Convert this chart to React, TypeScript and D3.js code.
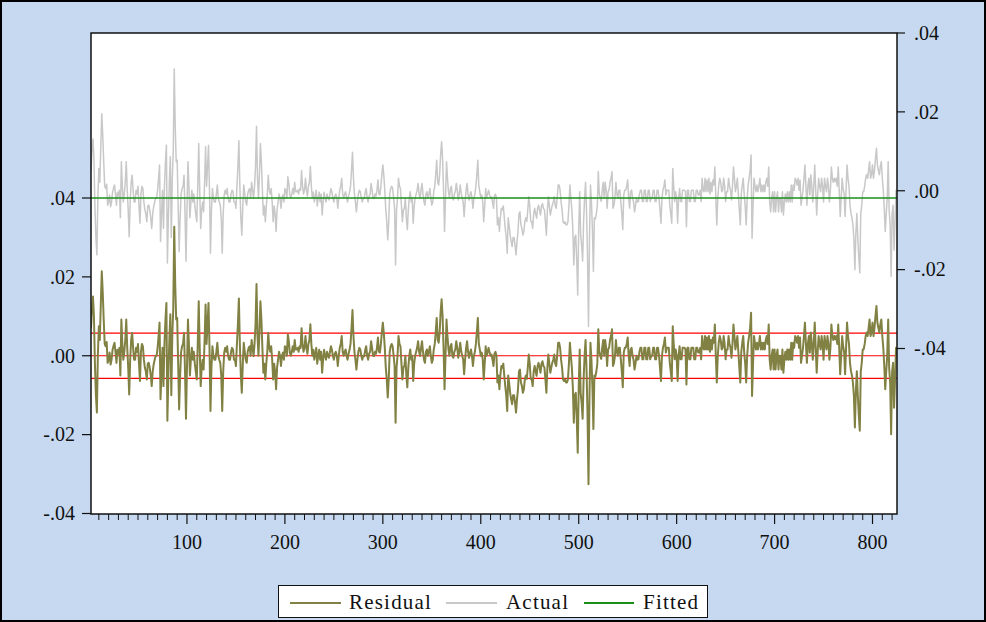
import React from "react";
import * as d3 from "d3";

// EViews style residual / actual / fitted graph
const firstObs = 2;

// residuals, in thousandths, one per observation starting at firstObs
const residual = [
  7, 12, 15, 10, -2, -10, -14.4, 0,
  7.5, 4, 13, 21.4, 16, 9, 3, 2.4, 3.5, -1.8,
  -1, 0.8, -2.2, -1, 1.5, 2.5, 3.3, 1, -1.8, 1.5,
  0.5, 2, -5, 9.2, 3, -1, 1, 4, 9.2, 2,
  -3, -9.8, -1, 4, 5.8, 2, -1, -1, 2, 1,
  3, -2, -6.4, 1, 3, 2.4, -1, -3, -4, -6,
  -2, -1.8, -3, -5, -7.7, -4, -2.2, -1, 0, 0,
  2, 5, 8.4, -11, -4, 2, -7.7, 3, 9, 13.4,
  -16.5, -5, 4, 10.5, -10, 5, 12, 32.7, 18, 9.2,
  9.6, -2, -13.6, -5, 1, 2.4, 3, 5.8, -4, -16,
  -3, 9.2, 3, -5, -1, 2, -1, 1, -2, -4,
  -6, 3, 13.8, 2, -7.7, -3, -1, -3.5, 4, 13,
  3, 8, 13.4, 2, -14, -3, 2.4, 0, -1, -1,
  1, 3.3, 0, -1, -1.8, -5, -14, -4, 0.8, 2,
  1, 2.4, 0, -1, -1, 1, 2, 1.6, -1, -1,
  -2.6, 3, 8, 14.5, 3, -5, -9.4, -2, 3.3, 1,
  -1, -1.8, 1, 2, 2.4, 0, 4, 2, -0.1, 3,
  8, 18.2, 5, 0, 6, 13.8, 9.2, 2, -4.3, -2,
  -6, -2, 1, 5.8, 2, 1, 2.4, -1, -6, -2,
  -4, -8.5, -3, -1, 1, 0, -2.6, 0, 0.8, -1,
  2.4, 2, 0, 5.4, 3.7, 0.8, 0, 1, 2.4, 1,
  4, 1.6, 1.6, 2, 1, 2.4, 2, 7, 3, 1,
  2, 5, 2, 0.5, 3, 4, 8, 3, 0, 1.5,
  -1, 0.5, 2, -2, 0, 1.5, -1, 1, -4.3, -1,
  1.5, 0, -1, 1, 0, -0.5, 1, 2.4, 1.5, 0,
  -1, 0.5, 1, 0, -2.6, 0, 2, 3, 5, 1,
  0, 1, 1.6, 0, -1, 0.5, 1.5, 3, 7, 11.6,
  5, 1, -1, -3.5, -1, 1, 2, 1.6, 0, -1,
  0, -0.1, 1.5, 2.4, 0, -1, 0.5, 1, 3.7, 2,
  0, -0.1, 1, 0.5, 2, 4.6, 1, 0.8, 3, 6,
  8.4, 5.7, 2, -3, -6, -10.6, -6, 1, 2.4, 3,
  2.4, 0, -2.6, -17, -3, 0, 5, 3, 2.4, -2,
  -6, -3, -2.6, 0, -5, -8, -3, 0, 1.6, -1,
  0, -6.4, -2, 0, 1, 2, 3.7, 1, -0.1, 2,
  3.7, 1, -1, -1.8, 1, 1.6, 0, 1, 2.4, 0,
  -1.8, -1, 1.6, 3, 6, 9.6, 4, 3.3, 6, 11,
  14.3, 10, 2, -8.5, 0, 9.2, 5, 1.6, 0, 2.4,
  3, 0, -0.5, 1, 1.6, 3.7, 2, -0.5, 1, 3.3,
  1.2, 0, -0.9, -4.7, -1, 2, 3.7, 1, -0.5, 0.8,
  1.6, 0, -2.6, 0, 1, 3, 6, 9.6, 3, 1.6,
  0, 0.8, -1, -6, -2, 2.4, 0, 1, 2, 0.8,
  0, 0.3, -1, -2.6, 0.5, 1, 0, -6.8, -5, -8.5,
  -5, -2.6, -3, -2, -5, -7.7, -10, -14, -5, -7,
  -9.4, -11, -12.3, -10, -10, -12, -14.4, -11, -8.5, -4,
  -3.5, -6.8, -7.7, -9.4, -8.5, -6, -5, -5.9, -3, 0.3,
  -2, -5.9, -6, -7.7, -4, -2.6, -4, -5.1, -2.6, -1.8,
  -3, -4.3, -2, -1.4, -2.6, -3, -6, -9.4, -3, 0.3,
  -2, -4.3, -3, -1.8, -1, 0.3, -2, -2.6, 0, 3.3,
  3.3, 2, -1, -3, -6, -6.4, -6, -6.8, -6.8, -6,
  -2, 3.3, 0, -3, -8, -17, -10, -9.4, -16, -24.6,
  -8, 1.6, -9.4, -12, -16, -6, 0, 4, -3.5, -15,
  -32.6, -10, 3.3, -1, -8, -18.6, -5, -5.3, -4, -2,
  6.7, 1, 0, -0.8, 2, 4, 0, 4, 2, -2.6,
  1.6, 2, 4, 5, 6.7, -2.6, -1.8, 0, 4, 1,
  0, 2, 2, -1, -4, -8, 0.8, 2, 2, 3,
  4.6, 0, -2.6, 1.6, 2, 0, -1, -3.5, -2, 0,
  -1, -0.9, 1, 2, 2, -0.9, -0.9, 2, 2, -0.9,
  -0.9, 2, 2, -0.9, 0, 0, 2, 2, -0.9, -0.9,
  2, 2, 0, -3, -6.4, 0, 2, 3, 4.6, 0.8,
  2, 2, 2, -1.8, -4, -6.4, 7.5, 3, -0.9, 1.6,
  0, -6.4, 0, 2.4, -0.9, -0.9, 2, 2, 2, 1.6,
  -7.3, 2, 2, -0.9, -0.9, 2, 2, 2, -0.9, -0.9,
  2, 2, 0.8, 0.8, 2, -0.9, 5, 2, 1.6, 5,
  1.6, 4.6, 1.6, 5, 1, 4, 1.6, 4.6, 3.3, 7.9,
  0, -6.8, 0, 3.3, 5, 4, 1.6, 2, 5, 3,
  -0.9, 1.6, 1.6, 5, 3, 2, -0.5, 3, 7.9, 5,
  1.6, 3, 5, 1, -3, -6.8, 1, 3.3, 5, 0.8,
  -2, -6.8, 0, 3.3, 5, 7, 10.9, -10.2, -2, 5,
  3, 1.6, 3.3, 1.6, 3, 5, 1.6, 3.3, 1.6, 3.3,
  1.6, 4, 5, 3, 7.9, -1, -3.5, 0, 1.6, -3.5,
  1.6, -3.5, 0, 1.6, -3.5, 0, -0.1, -3.5, 1.6, -4.3,
  -1, 1, -1, 1.6, -1, 1.6, -1, 3.3, -1, 3.3,
  2, 5, 4.5, 3.3, 5, 2, 4.6, -1.8, 0, 2,
  5, 8.4, 3, -1.8, 3, 5, 0.8, 5.9, 3, -1,
  3, 8.4, 2, -4.3, 1, 5, 3, 1.6, 5, 3,
  -1, 5, 3, 1.6, 5, 3, -1, 2, 7.9, 5,
  4, 5, 4.2, 5, 3, 7.9, 2, -4.7, 0, 5,
  2.4, 1, -4.7, 2, 8.4, 5, 3, -1.8, -3.9, -5,
  -6.8, -10.2, -18.2, -9, -3.9, -10.2, -15, -19, -4, -1.8,
  1.6, 1.6, 3, 5, 5.9, 5, 7, 9.2, 5, 6,
  8.4, 5, 7, 10, 12.6, 8.4, 7, 5.9, 8, 9.2,
  5, 2, -2.6, -8.5, -4, 0, 9.2, -3, -6.8, -19.9,
  -4, -1.8, -13.2, -6, 2, 0,
];

const fittedValue = -0.00185; // constant fit (mean of actual)
const residualSE = 0.00575; // +/- 1 S.E. band

const leftTicks = [-0.04, -0.02, 0, 0.02, 0.04];
const rightTicks = [-0.04, -0.02, 0, 0.02, 0.04];
const xTicks = [100, 200, 300, 400, 500, 600, 700, 800];
const legendLabels = ["Residual", "Actual", "Fitted"];

const W = 986;
const H = 622;
const plot = { left: 91, right: 897, top: 33, bottom: 514 };

const colors = {
  bg: "#C6D9F0",
  residual: "#818143",
  actual: "#C8C8C8",
  fitted: "#1A8F1A",
  band: "#FF0000",
};

const font = "'Liberation Serif', 'Times New Roman', serif";

const fmt = (v: number) => (v < 0 ? "-" : "") + Math.abs(v).toFixed(2).slice(1);

export default function App() {
  const data = residual.map((r, i) => {
    const res = r / 1000;
    return { obs: firstObs + i, res, fit: fittedValue, act: fittedValue + res };
  });
  const lastObs = firstObs + residual.length - 1;

  const x = d3.scaleLinear().domain([firstObs, lastObs]).range([plot.left, plot.right]);
  // residual on left axis, actual/fitted on right axis (same units per px)
  const yL = d3.scaleLinear().domain([-0.04, 0.04]).range([513.5, 198]);
  const yR = d3.scaleLinear().domain([-0.04, 0.04]).range([348.5, 33]);

  const resLine = d3.line<any>().x((d) => x(d.obs)).y((d) => yL(d.res));
  const actLine = d3.line<any>().x((d) => x(d.obs)).y((d) => yR(d.act));
  const fitLine = d3.line<any>().x((d) => x(d.obs)).y((d) => yR(d.fit));

  const minorTicks = d3.range(10, lastObs + 1, 10).filter((t) => t % 100 !== 0);

  const legend = [
    { label: legendLabels[0], color: colors.residual, x1: 290, x2: 341, tx: 349 },
    { label: legendLabels[1], color: colors.actual, x1: 446, x2: 497, tx: 506 },
    { label: legendLabels[2], color: colors.fitted, x1: 584, x2: 634, tx: 643 },
  ];

  return (
    <div style={{ position: "absolute", left: 0, top: 0 }}>
      <svg width={W} height={H} style={{ display: "block" }} fontFamily={font}>
        <defs>
          <clipPath id="plotClip">
            <rect x={plot.left} y={plot.top} width={plot.right - plot.left} height={plot.bottom - plot.top} />
          </clipPath>
        </defs>
        <rect x={1} y={1} width={W - 2} height={H - 2} fill={colors.bg} stroke="#000" strokeWidth={2} />
        <rect
          x={plot.left}
          y={plot.top}
          width={plot.right - plot.left}
          height={plot.bottom - plot.top}
          fill="#fff"
        />

        <g clipPath="url(#plotClip)">
          <path d={actLine(data) || ""} fill="none" stroke={colors.actual} strokeWidth={1.5} strokeLinejoin="round" />
          <path d={fitLine(data) || ""} fill="none" stroke={colors.fitted} strokeWidth={1.6} />
          {[residualSE, 0, -residualSE].map((v) => (
            <line key={v} x1={plot.left} x2={plot.right} y1={yL(v)} y2={yL(v)} stroke={colors.band} strokeWidth={1.2} />
          ))}
          <path d={resLine(data) || ""} fill="none" stroke={colors.residual} strokeWidth={2} strokeLinejoin="round" />
        </g>

        <rect
          x={plot.left}
          y={plot.top}
          width={plot.right - plot.left}
          height={plot.bottom - plot.top}
          fill="none"
          stroke="#111"
          strokeWidth={1.5}
        />

        {/* left axis */}
        {leftTicks.map((t) => (
          <g key={"l" + t}>
            <line x1={82} x2={plot.left} y1={yL(t)} y2={yL(t)} stroke="#111" strokeWidth={1.2} />
            <text x={75} y={yL(t)} dy="0.34em" textAnchor="end" fontSize={20} fill="#111">
              {fmt(t)}
            </text>
          </g>
        ))}

        {/* right axis */}
        {rightTicks.map((t) => (
          <g key={"r" + t}>
            <line x1={plot.right} x2={905} y1={yR(t)} y2={yR(t)} stroke="#111" strokeWidth={1.2} />
            <text x={914} y={yR(t)} dy="0.34em" textAnchor="start" fontSize={20} fill="#111">
              {fmt(t)}
            </text>
          </g>
        ))}

        {/* bottom axis */}
        {minorTicks.map((t) => (
          <line key={"m" + t} x1={x(t)} x2={x(t)} y1={plot.bottom} y2={plot.bottom + 6} stroke="#111" strokeWidth={1} />
        ))}
        {xTicks.map((t) => (
          <g key={"x" + t}>
            <line x1={x(t)} x2={x(t)} y1={plot.bottom} y2={plot.bottom + 10} stroke="#111" strokeWidth={1.2} />
            <text x={x(t)} y={549} textAnchor="middle" fontSize={20} fill="#111">
              {t}
            </text>
          </g>
        ))}

        {/* legend */}
        <rect x={278.5} y={585.5} width={429} height={32} fill="#fff" stroke="#111" strokeWidth={1} />
        {legend.map((l) => (
          <g key={l.label}>
            <line x1={l.x1} x2={l.x2} y1={603} y2={603} stroke={l.color} strokeWidth={2} />
            <text x={l.tx} y={609} fontSize={21} letterSpacing={1.2} fill="#111">
              {l.label}
            </text>
          </g>
        ))}
      </svg>
    </div>
  );
}
